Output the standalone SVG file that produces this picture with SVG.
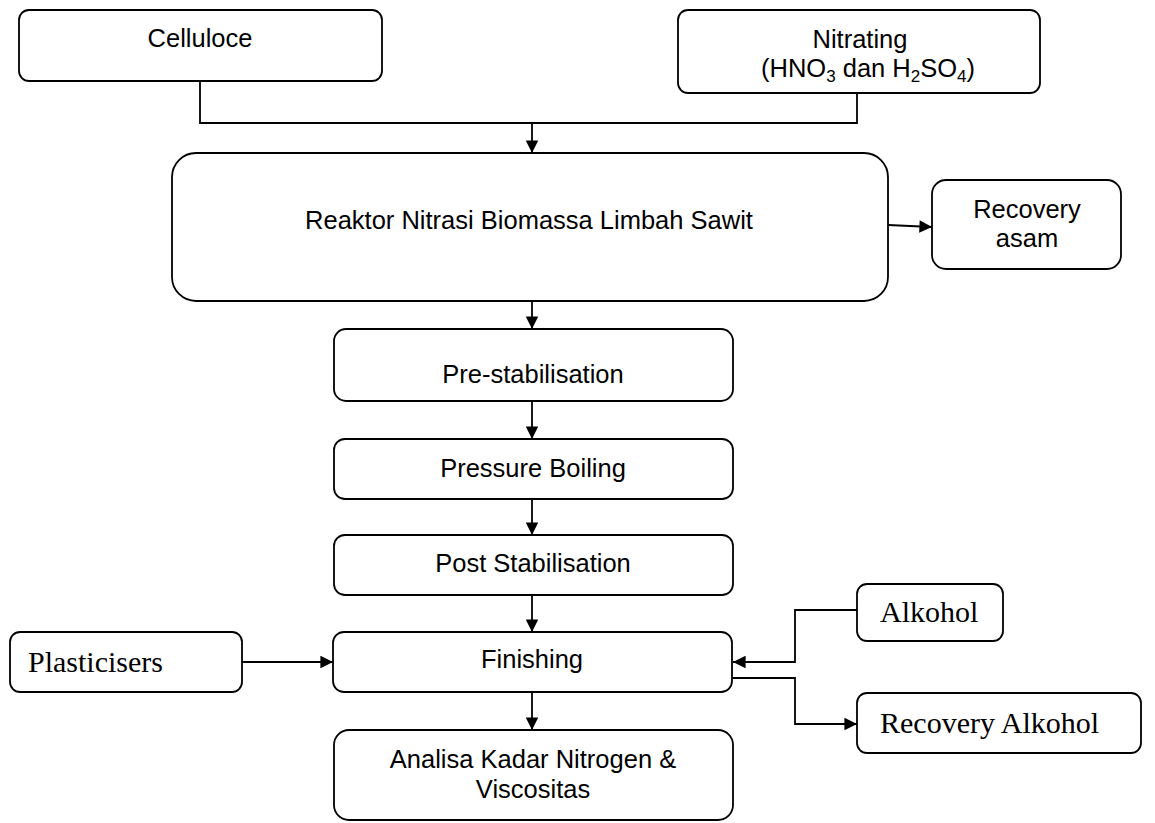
<svg xmlns="http://www.w3.org/2000/svg" width="1155" height="823" viewBox="0 0 1155 823">
<defs>
<style>
.box{fill:#fff;stroke:#000;stroke-width:1.8}
.a{font-family:"Liberation Sans",Arial,sans-serif;font-size:25.5px;fill:#000;text-anchor:middle}
.t{font-family:"Liberation Serif","Times New Roman",serif;font-size:30px;fill:#000}
.ln{fill:none;stroke:#000;stroke-width:1.8}
</style>
<marker id="ah" viewBox="0 0 10 10" refX="10" refY="5" markerWidth="7.5" markerHeight="7" markerUnits="strokeWidth" orient="auto">
<path d="M0,0 L10,5 L0,10 Z" fill="#000"/>
</marker>
</defs>
<rect width="1155" height="823" fill="#fff"/>
<g id="connectors">
<path class="ln" d="M200,81 V123 H857 V93"/>
<path class="ln" d="M532,123 V153" marker-end="url(#ah)"/>
<path class="ln" d="M888,225 L932,227" marker-end="url(#ah)"/>
<path class="ln" d="M532,301 V329" marker-end="url(#ah)"/>
<path class="ln" d="M532,401 V439" marker-end="url(#ah)"/>
<path class="ln" d="M532,499 V535" marker-end="url(#ah)"/>
<path class="ln" d="M532,595 V632" marker-end="url(#ah)"/>
<path class="ln" d="M532,692 V730" marker-end="url(#ah)"/>
<path class="ln" d="M242,662 H333" marker-end="url(#ah)"/>
<path class="ln" d="M857,610 H795 V662 H733" marker-end="url(#ah)"/>
<path class="ln" d="M733,678 H795 V724 H857" marker-end="url(#ah)"/>
</g>
<g id="celluloce">
<rect class="box" x="19" y="10" width="363" height="71" rx="10"/>
<text class="a" x="200" y="47">Celluloce</text>
</g>
<g id="nitrating">
<rect class="box" x="678" y="10" width="362" height="83" rx="10"/>
<text class="a" x="860" y="48">Nitrating</text>
<text class="a" x="868" y="77">(HNO<tspan font-size="17" dy="5">3</tspan><tspan dy="-5"> dan H</tspan><tspan font-size="17" dy="5">2</tspan><tspan dy="-5">SO</tspan><tspan font-size="17" dy="5">4</tspan><tspan dy="-5">)</tspan></text>
</g>
<g id="reaktor">
<rect class="box" x="172" y="153" width="716" height="148" rx="24"/>
<text class="a" x="529" y="229">Reaktor Nitrasi Biomassa Limbah Sawit</text>
</g>
<g id="recovery-asam">
<rect class="box" x="932" y="180" width="189" height="89" rx="14"/>
<text class="a" x="1027" y="218">Recovery</text>
<text class="a" x="1027" y="247">asam</text>
</g>
<g id="pre-stabilisation">
<rect class="box" x="334" y="329" width="399" height="72" rx="12"/>
<text class="a" x="533" y="383">Pre-stabilisation</text>
</g>
<g id="pressure-boiling">
<rect class="box" x="334" y="439" width="399" height="60" rx="11"/>
<text class="a" x="533" y="477">Pressure Boiling</text>
</g>
<g id="post-stabilisation">
<rect class="box" x="334" y="535" width="399" height="60" rx="11"/>
<text class="a" x="533" y="572">Post Stabilisation</text>
</g>
<g id="finishing">
<rect class="box" x="333" y="632" width="399" height="60" rx="11"/>
<text class="a" x="532" y="668">Finishing</text>
</g>
<g id="analisa">
<rect class="box" x="334" y="730" width="399" height="90" rx="15"/>
<text class="a" x="533" y="768">Analisa Kadar Nitrogen &amp;</text>
<text class="a" x="533" y="798">Viscositas</text>
</g>
<g id="plasticisers">
<rect class="box" x="10" y="632" width="232" height="60" rx="10"/>
<text class="t" x="28" y="672">Plasticisers</text>
</g>
<g id="alkohol">
<rect class="box" x="857" y="584" width="146" height="57" rx="10"/>
<text class="t" x="880" y="622">Alkohol</text>
</g>
<g id="recovery-alkohol">
<rect class="box" x="857" y="693" width="284" height="60" rx="10"/>
<text class="t" x="880" y="733">Recovery Alkohol</text>
</g>
</svg>
